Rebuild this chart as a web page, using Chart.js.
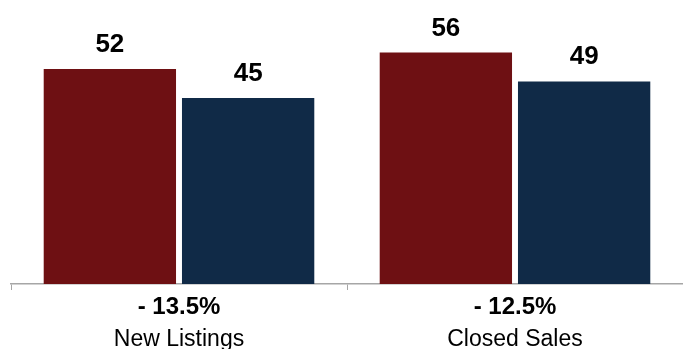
<!DOCTYPE html>
<html>
<head>
<meta charset="utf-8">
<script src="https://cdn.jsdelivr.net/npm/chart.js@4.4.1/dist/chart.umd.min.js"></script>
<style>
  html, body { margin: 0; padding: 0; background: #fff; }
  #wrap { width: 683px; height: 349px; position: relative; }
</style>
</head>
<body>
<div id="wrap"><canvas id="chart"></canvas></div>
<script>
const categories = ["New Listings", "Closed Sales"];
const changes = ["- 13.5%", "- 12.5%"];
const priorYear = [52, 56];
const currentYear = [45, 49];

const fontFamily = "'Liberation Sans', Arial, Helvetica, sans-serif";

// numbers above each bar
const valueLabels = {
    id: 'valueLabels',
    afterDatasetsDraw(chart) {
        const ctx = chart.ctx;
        ctx.save();
        ctx.font = "bold 26px " + fontFamily;
        ctx.fillStyle = '#000';
        ctx.textAlign = 'center';
        ctx.textBaseline = 'alphabetic';
        chart.data.datasets.forEach((ds, i) => {
            chart.getDatasetMeta(i).data.forEach((bar, j) => {
                ctx.fillText(ds.data[j], bar.x, bar.y - 17);
            });
        });
        ctx.restore();
    }
};

new Chart(document.getElementById('chart').getContext('2d'), {
    type: 'bar',
    data: {
        labels: categories,
        datasets: [
            { label: 'Prior Year', data: priorYear, backgroundColor: '#6e1013', xAxisID: 'x' },
            { label: 'Current Year', data: currentYear, backgroundColor: '#102a47', xAxisID: 'x' }
        ]
    },
    options: {
        responsive: true,
        maintainAspectRatio: false,
        animation: false,
        categoryPercentage: 0.823,
        barPercentage: 0.957,
        layout: { padding: { top: 36, left: 11, right: 0, bottom: 0 } },
        plugins: {
            legend: { display: false },
            tooltip: { enabled: false }
        },
        scales: {
            y: {
                display: false,
                min: 0,
                max: 60
            },
            x: {
                position: 'bottom',
                labels: changes,
                afterFit: (scale) => { scale.height = 30; },
                border: { display: true, color: '#a6a6a6', width: 1.5 },
                grid: { display: true, drawOnChartArea: false, drawTicks: true, tickLength: 6, color: '#a6a6a6', offset: true },
                ticks: {
                    color: '#000',
                    padding: 5,
                    font: { family: fontFamily, size: 24, weight: 'bold', lineHeight: 1 }
                }
            },
            x2: {
                type: 'category',
                position: 'bottom',
                labels: categories,
                offset: true,
                afterFit: (scale) => { scale.height = 35; },
                border: { display: false },
                grid: { display: false },
                ticks: {
                    color: '#000',
                    padding: 6,
                    font: { family: fontFamily, size: 23, lineHeight: 1 }
                }
            }
        }
    },
    plugins: [valueLabels]
});
</script>
</body>
</html>
